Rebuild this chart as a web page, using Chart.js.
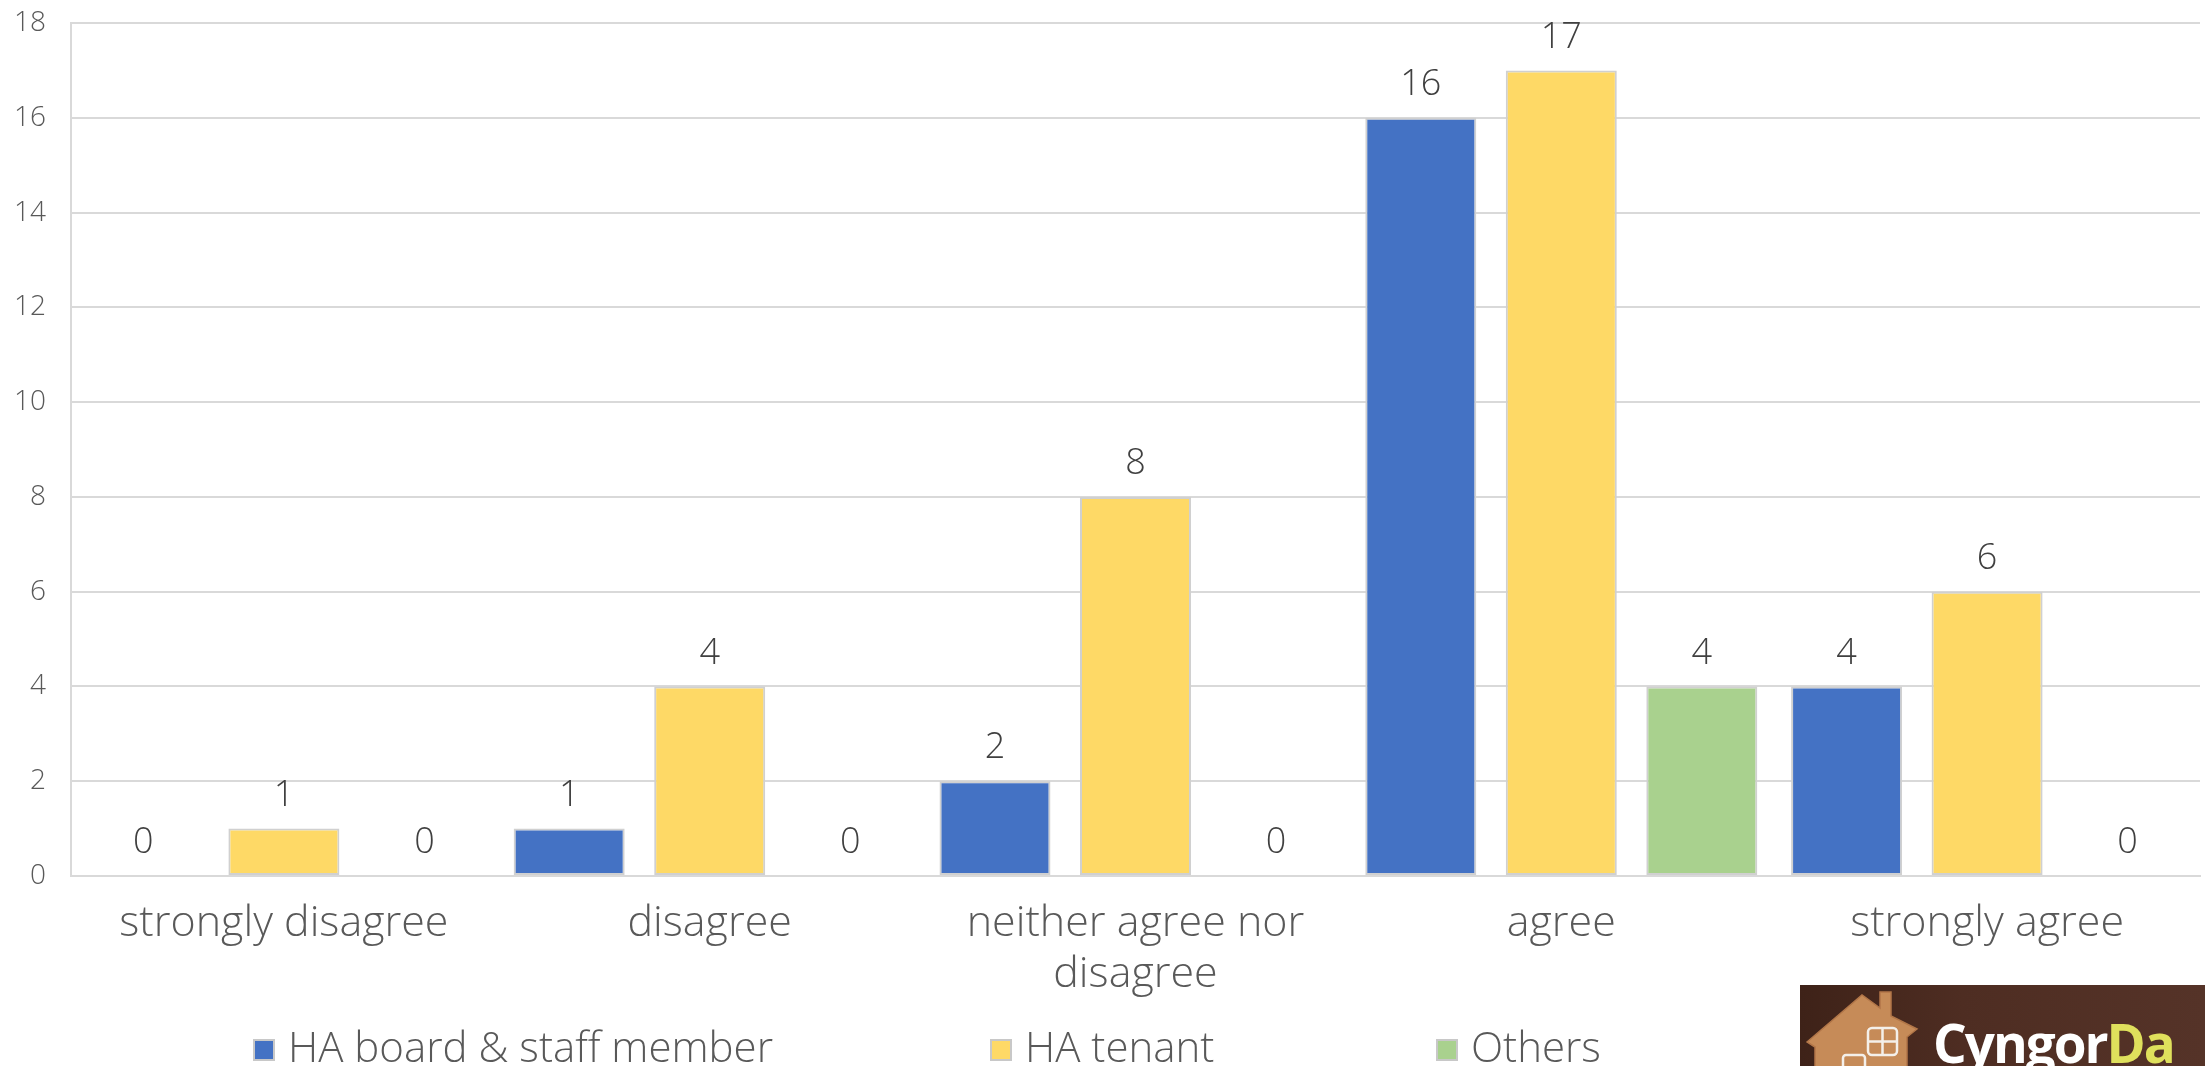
<!DOCTYPE html>
<html>
<head>
<meta charset="utf-8">
<script src="https://cdn.jsdelivr.net/npm/chart.js@4.4.1/dist/chart.umd.min.js"></script>
<style>
  html, body { margin:0; padding:0; background:#fff; overflow:hidden; width:2208px; height:1066px; }
  #wrap { position:relative; width:2208px; height:1066px; overflow:hidden; }
  #c { position:absolute; left:0; top:0; }
  .lg { position:absolute; top:1025px; font-family:'Open Sans', sans-serif; font-weight:300; font-size:42px; line-height:42px; color:#595959; white-space:nowrap; }
  .lg .bx { position:absolute; left:0; top:14px; width:18px; height:18px; border:2px solid #c8c8c8; }
  .lg .tx { position:absolute; left:35px; top:0; }
  #logo { position:absolute; left:1800px; top:985px; width:405px; height:110px; background:linear-gradient(90deg,#3e2218,#4e2d22 40%,#553328); overflow:hidden; }
  #logo svg { position:absolute; left:0; top:0; }
  #logo .word { position:absolute; left:133px; top:31px; font-family:'Open Sans', sans-serif; font-weight:700; font-size:53px; line-height:53px; color:#ffffff; white-space:nowrap; letter-spacing:-2px; }
  #logo .word span { color:#dfe05c; }
</style>
</head>
<body>
<div id="wrap">
  <canvas id="c" width="2208" height="1066"></canvas>
  <div id="legend"></div>
  <div id="logo">
    <svg width="130" height="110" viewBox="0 0 130 110">
      <path d="M7 57 L62 10 L80 23 L80 7 L91 7 L91 31 L117 44 L107 52 L107 110 L15 110 L15 62 Z" fill="#c68b58" stroke="#b27648" stroke-width="1.5"/>
      <rect x="68" y="43" width="29" height="27" rx="4" fill="none" stroke="#f4f0ea" stroke-width="2.5"/>
      <line x1="82.5" y1="43" x2="82.5" y2="70" stroke="#f4f0ea" stroke-width="2.5"/>
      <line x1="68" y1="56.5" x2="97" y2="56.5" stroke="#f4f0ea" stroke-width="2.5"/>
      <rect x="43" y="70" width="22" height="26" rx="3" fill="none" stroke="#f4f0ea" stroke-width="2.5"/>
    </svg>
    <div class="word">Cyngor<span>Da</span></div>
  </div>
</div>
<script>
// ---- data ----
const categories = ['strongly disagree', 'disagree', ['neither agree nor', 'disagree'], 'agree', 'strongly agree'];
const seriesNames = ['HA board & staff member', 'HA tenant', 'Others'];
const boardValues = [0, 1, 2, 16, 4];
const tenantValues = [1, 4, 8, 17, 6];
const othersValues = [0, 0, 0, 4, 0];
const yMin = 0;
const yMax = 18;
const yStep = 2;

// ---- styles ----
const seriesColors = ['#4472C4', '#FED966', '#A9D18E'];
const FONT = "'Open Sans', sans-serif";

const valueLabels = {
  id: 'valueLabels',
  afterDatasetsDraw(chart) {
    const ctx = chart.ctx;
    ctx.save();
    ctx.font = "300 36px " + FONT;
    ctx.fillStyle = '#404040';
    ctx.textAlign = 'center';
    ctx.textBaseline = 'middle';
    chart.data.datasets.forEach((ds, i) => {
      const meta = chart.getDatasetMeta(i);
      meta.data.forEach((el, j) => {
        ctx.fillText(String(ds.data[j]), el.x, el.y - 33);
      });
    });
    ctx.restore();
  }
};

const valueSets = [boardValues, tenantValues, othersValues];
const chart = new Chart(document.getElementById('c'), {
  type: 'bar',
  data: {
    labels: categories,
    datasets: seriesNames.map((name, i) => ({
      label: name,
      data: valueSets[i],
      backgroundColor: seriesColors[i],
      borderColor: '#d0d0d0',
      borderWidth: 2,
      borderSkipped: false,
      categoryPercentage: 0.99,
      barPercentage: 0.79
    }))
  },
  options: {
    responsive: false,
    animation: false,
    devicePixelRatio: 1,
    layout: { padding: { top: 23, right: 8, left: 0, bottom: 0 } },
    plugins: { legend: { display: false }, tooltip: { enabled: false } },
    scales: {
      x: {
        grid: { display: false },
        border: { display: true, color: '#d9d9d9', width: 2 },
        ticks: {
          color: '#595959',
          font: { family: FONT, size: 43, weight: '300', lineHeight: 1.17 },
          padding: 15,
          maxRotation: 0,
          autoSkip: false
        },
        afterFit(s) { s.height = 190; }
      },
      y: {
        min: yMin,
        max: yMax,
        ticks: {
          stepSize: yStep,
          color: '#595959',
          font: { family: FONT, size: 28, weight: '300' },
          padding: 25
        },
        grid: { color: '#d9d9d9', lineWidth: 2, drawTicks: false },
        border: { display: true, color: '#d9d9d9', width: 2 },
        afterFit(s) { s.width = 71; s.paddingTop = 0; s.paddingBottom = 0; }
      }
    }
  },
  plugins: [valueLabels]
});

// ---- html legend built from the datasets ----
const legendStarts = [253, 990, 1436];
const legendEl = document.getElementById('legend');
chart.data.datasets.forEach((ds, i) => {
  const item = document.createElement('div');
  item.className = 'lg';
  item.style.left = legendStarts[i] + 'px';
  const bx = document.createElement('div');
  bx.className = 'bx';
  bx.style.background = ds.backgroundColor;
  const tx = document.createElement('div');
  tx.className = 'tx';
  tx.textContent = ds.label;
  item.appendChild(bx);
  item.appendChild(tx);
  legendEl.appendChild(item);
});
</script>
</body>
</html>
